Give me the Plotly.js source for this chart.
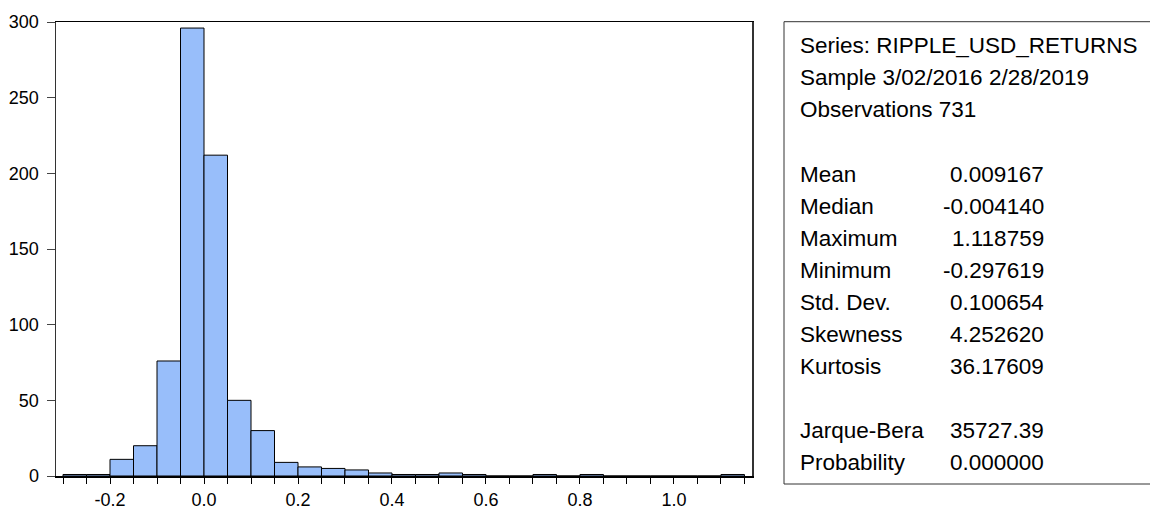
<!DOCTYPE html>
<html>
<head>
<meta charset="utf-8">
<script src="https://cdn.plot.ly/plotly-3.0.1.min.js"></script>
<style>
  html, body { margin: 0; padding: 0; background: #fff; }
  #chart { width: 1150px; height: 511px; }
</style>
</head>
<body>
<div id="chart"></div>
<script>
// ---- data ----
var binCenters = [-0.275, -0.225, -0.175, -0.125, -0.075, -0.025, 0.025, 0.075, 0.125, 0.175,
                  0.225, 0.275, 0.325, 0.375, 0.425, 0.475, 0.525, 0.575, 0.625, 0.675,
                  0.725, 0.775, 0.825, 0.875, 0.925, 0.975, 1.025, 1.075, 1.125];
var binCounts  = [1, 1, 11, 20, 76, 296, 212, 50, 30, 9,
                  6, 5, 4, 2, 1, 1, 2, 1, 0, 0,
                  1, 0, 1, 0, 0, 0, 0, 0, 1];
var binWidth = 0.05;

var xTickVals = [-0.2, 0.0, 0.2, 0.4, 0.6, 0.8, 1.0];
var xTickText = ["-0.2", "0.0", "0.2", "0.4", "0.6", "0.8", "1.0"];
var yTickVals = [0, 50, 100, 150, 200, 250, 300];

var headerLines = ["Series: RIPPLE_USD_RETURNS", "Sample 3/02/2016 2/28/2019", "Observations 731"];
var statLabels  = ["Mean", "Median", "Maximum", "Minimum", "Std. Dev.", "Skewness", "Kurtosis"];
var statValues  = ["0.009167", "-0.004140", "1.118759", "-0.297619", "0.100654", "4.252620", "36.17609"];
var testLabels  = ["Jarque-Bera", "Probability"];
var testValues  = ["35727.39", "0.000000"];

// ---- geometry helpers (pixel -> paper) ----
var W = 1150, H = 511;
var mL = 56, mR = 398, mT = 22, mB = 35;
var plotW = W - mL - mR, plotH = H - mT - mB;
function px(x) { return (x - mL) / plotW; }
function py(y) { return (H - mB - y) / plotH; }

var font = "Liberation Sans, Arial, sans-serif";
var statFont = {family: font, size: 22.5, color: "#000"};

var annotations = [];
var rowStart = 45, rowStep = 32;
var labelX = px(798), valueX = px(1046);
function addRow(i, left, right) {
  var yy = py(rowStart + i * rowStep + 1);
  annotations.push({xref: "paper", yref: "paper", x: labelX, y: yy, xanchor: "left", yanchor: "middle",
                    text: left, showarrow: false, font: statFont});
  if (right !== undefined) {
    annotations.push({xref: "paper", yref: "paper", x: valueX, y: yy, xanchor: "right", yanchor: "middle",
                      text: right, showarrow: false, font: statFont});
  }
}
headerLines.forEach(function (t, i) { addRow(i, t); });
statLabels.forEach(function (t, i) { addRow(4 + i, t, statValues[i]); });
testLabels.forEach(function (t, i) { addRow(12 + i, t, testValues[i]); });

var trace = {
  type: "bar",
  x: binCenters,
  y: binCounts,
  width: binCounts.map(function () { return binWidth; }),
  marker: {color: "#98BEFA", line: {color: "#000", width: 1}},
  hoverinfo: "x+y"
};

var layout = {
  width: W, height: H,
  margin: {l: mL, r: mR, t: mT, b: mB, pad: 0},
  paper_bgcolor: "#fff", plot_bgcolor: "#fff",
  showlegend: false,
  bargap: 0,
  xaxis: {
    range: [-0.3149, 1.166],
    tickmode: "array", tickvals: xTickVals, ticktext: xTickText,
    ticks: "outside", ticklen: 6, tickwidth: 1, tickcolor: "#000",
    minor: {dtick: 0.05, tick0: 0, ticks: "outside", ticklen: 6, tickwidth: 1, tickcolor: "#000"},
    showgrid: false, zeroline: false,
    showline: true, linecolor: "#000", linewidth: 1.5, mirror: true,
    tickfont: {family: font, size: 18, color: "#000"},
    ticklabelstandoff: 1,
    fixedrange: true
  },
  yaxis: {
    range: [0, 300],
    tickmode: "array", tickvals: yTickVals,
    ticks: "outside", ticklen: 8, tickwidth: 1, tickcolor: "#444",
    showgrid: false, zeroline: false,
    showline: true, linecolor: "#333", linewidth: 1.5, mirror: true,
    tickfont: {family: font, size: 18, color: "#000"},
    ticklabelstandoff: 4,
    fixedrange: true
  },
  shapes: [{
    type: "rect", xref: "paper", yref: "paper",
    x0: px(784), x1: px(1175), y0: py(484), y1: py(21.7),
    line: {color: "#333", width: 1}, fillcolor: "rgba(0,0,0,0)"
  }],
  annotations: annotations
};

Plotly.newPlot("chart", [trace], layout, {displayModeBar: false, staticPlot: true});
</script>
</body>
</html>
